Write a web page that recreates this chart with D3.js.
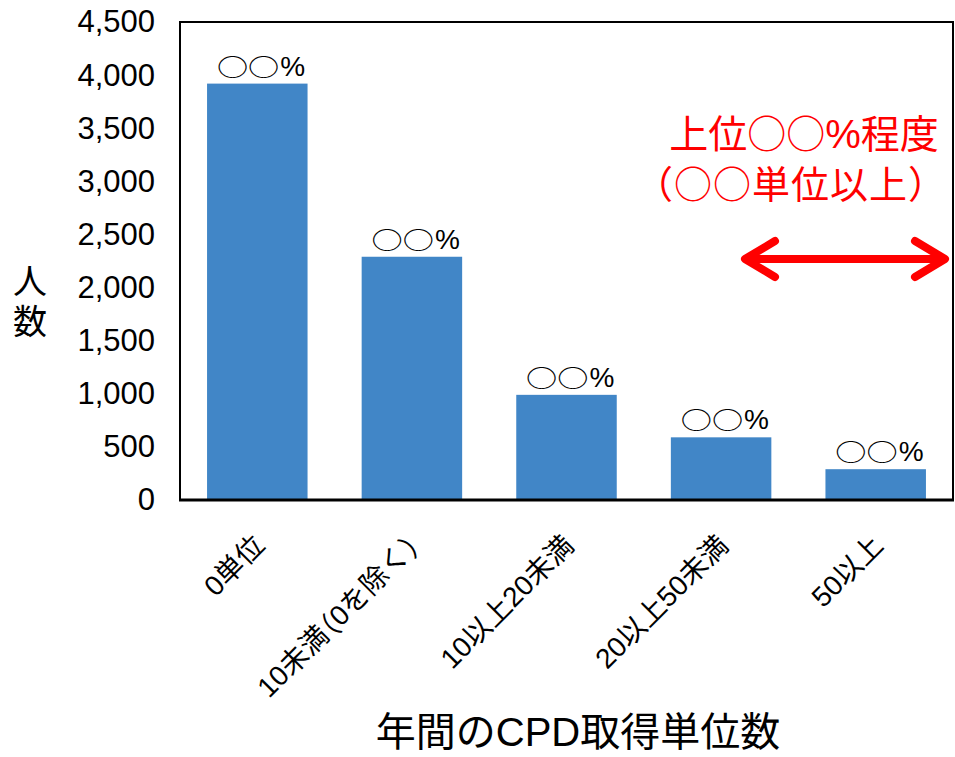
<!DOCTYPE html>
<html>
<head>
<meta charset="utf-8">
<script src="https://cdn.jsdelivr.net/npm/d3@7"></script>
<style>
  body { margin: 0; background: #fff; }
  svg text { font-family: "Liberation Sans", Arial, "Noto Sans CJK JP", sans-serif; }
</style>
</head>
<body>
<script>
var width = 955;
var height = 757;

// data
var categories = ["0単位", "10未満（0を除く）", "10以上20未満", "20以上50未満", "50以上"];
var counts = [3920, 2290, 990, 590, 290];
var barLabels = ["○○%", "○○%", "○○%", "○○%", "○○%"];
var yTicks = [0, 500, 1000, 1500, 2000, 2500, 3000, 3500, 4000, 4500];

var plot = {left: 180, top: 22, right: 953, bottom: 500};
var cjk = "'Noto Sans CJK JP', sans-serif";

var svg = d3.select("body")
    .append("svg")
    .attr("width", width)
    .attr("height", height);

// put runs of ○ and full-width brackets in the CJK font
function runs(sel, str, pctSize) {
    str.split(/([○（）]+|%)/).forEach(function(part) {
        if (!part) return;
        var t = sel.append("tspan").text(part);
        if (/[○（）]/.test(part)) t.style("font-family", cjk);
        if (part === "%" && pctSize) t.attr("font-size", pctSize);
    });
}

var x = d3.scaleBand()
    .domain(categories)
    .range([plot.left, plot.right])
    .paddingInner(0.35)
    .paddingOuter(0.175);

var y = d3.scaleLinear()
    .domain([0, 4500])
    .range([plot.bottom, plot.top]);

// bars
svg.selectAll(".bar")
    .data(counts)
    .enter()
    .append("rect")
    .attr("class", "bar")
    .attr("x", function(d, i) { return x(categories[i]); })
    .attr("y", function(d) { return y(d); })
    .attr("width", x.bandwidth())
    .attr("height", function(d) { return y(0) - y(d); })
    .attr("fill", "#4186c7");

// percent labels above bars: wide circles, then the % sign
var pct = svg.selectAll(".pct")
    .data(counts)
    .enter()
    .append("g")
    .attr("class", "pct")
    .attr("transform", function(d, i) {
        return "translate(" + (x(categories[i]) + x.bandwidth() / 2) + "," + (y(d) - 8) + ")";
    });

pct.append("text")
    .attr("transform", "translate(22,0) scale(1.3,1)")
    .attr("text-anchor", "end")
    .attr("font-size", 24)
    .style("font-family", cjk)
    .text(function(d, i) { return barLabels[i].replace("%", ""); });

pct.append("text")
    .attr("x", 23)
    .attr("text-anchor", "start")
    .attr("font-size", 28)
    .text("%");

// plot frame
svg.append("rect")
    .attr("x", plot.left)
    .attr("y", plot.top)
    .attr("width", plot.right - plot.left)
    .attr("height", plot.bottom - plot.top)
    .attr("fill", "none")
    .attr("stroke", "#000")
    .attr("stroke-width", 2);

svg.append("line")
    .attr("x1", plot.left - 1)
    .attr("x2", plot.right + 1)
    .attr("y1", plot.bottom)
    .attr("y2", plot.bottom)
    .attr("stroke", "#000")
    .attr("stroke-width", 3);

// y axis labels
var yAxis = d3.axisLeft(y)
    .tickValues(yTicks)
    .tickSize(0)
    .tickPadding(25)
    .tickFormat(d3.format(","));

var yg = svg.append("g")
    .attr("transform", "translate(" + plot.left + ",0)")
    .call(yAxis);
yg.select(".domain").remove();
yg.selectAll("text")
    .attr("font-size", 31)
    .attr("fill", "#000")
    .style("font-family", "'Liberation Sans', Arial, sans-serif");

// x category labels, rotated
svg.selectAll(".cat")
    .data(categories)
    .enter()
    .append("text")
    .attr("class", "cat")
    .attr("text-anchor", "end")
    .attr("dominant-baseline", "central")
    .attr("font-size", 28)
    .style("font-feature-settings", "'halt'")
    .attr("transform", function(d) {
        return "translate(" + (x(d) + x.bandwidth() / 2 + 2) + ",540) rotate(-45)";
    })
    .each(function(d) { runs(d3.select(this), d); });

// axis titles
svg.append("text")
    .attr("x", 578)
    .attr("y", 746)
    .attr("text-anchor", "middle")
    .attr("font-size", 40)
    .text("年間のCPD取得単位数");

svg.append("text")
    .attr("x", 30)
    .attr("y", 294)
    .attr("text-anchor", "middle")
    .attr("font-size", 34)
    .text("人");
svg.append("text")
    .attr("x", 30)
    .attr("y", 334)
    .attr("text-anchor", "middle")
    .attr("font-size", 34)
    .text("数");

// annotation
var note = svg.append("g").attr("fill", "#ff0000");
note.append("text")
    .attr("x", 804)
    .attr("y", 148)
    .attr("text-anchor", "middle")
    .attr("font-size", 39)
    .each(function() { runs(d3.select(this), "上位○○%程度", 40); });
note.append("text")
    .attr("x", 791)
    .attr("y", 198)
    .attr("text-anchor", "middle")
    .attr("font-size", 38)
    .attr("letter-spacing", 1)
    .each(function() { runs(d3.select(this), "（○○単位以上）"); });

var ax1 = 745, ax2 = 945, ay = 259;
var arrow = svg.append("g")
    .attr("stroke", "#ff0000")
    .attr("fill", "none")
    .attr("stroke-width", 8)
    .attr("stroke-linecap", "round")
    .attr("stroke-linejoin", "round");
arrow.append("line")
    .attr("x1", ax1 + 2).attr("x2", ax2 - 2)
    .attr("y1", ay).attr("y2", ay);
arrow.append("path")
    .attr("d", "M" + (ax1 + 30) + "," + (ay - 18) + "L" + ax1 + "," + ay + "L" + (ax1 + 30) + "," + (ay + 18));
arrow.append("path")
    .attr("d", "M" + (ax2 - 30) + "," + (ay - 18) + "L" + ax2 + "," + ay + "L" + (ax2 - 30) + "," + (ay + 18));
</script>
</body>
</html>
